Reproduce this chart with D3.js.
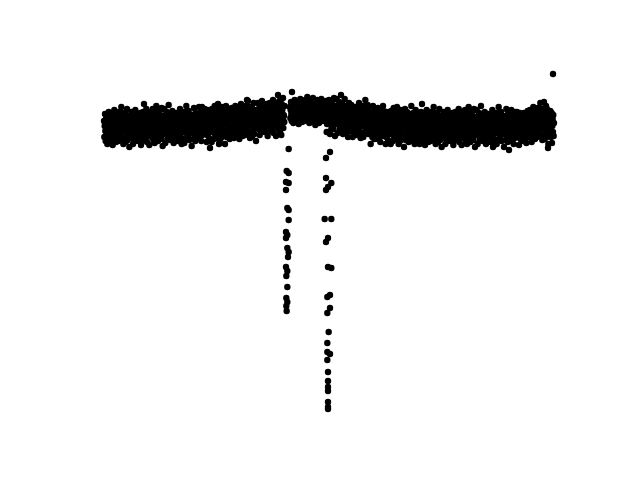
<!DOCTYPE html>
<html>
<head>
<meta charset="utf-8">
<script src="https://cdn.jsdelivr.net/npm/d3@7"></script>
<style>
html,body{margin:0;padding:0;background:#fff;}
svg{display:block;}
</style>
</head>
<body>
<svg id="chart" width="640" height="480"></svg>
<script>
// Light-curve style data: cadence number (x) and flux offset (y)
const seg1Start = 0;
const seg1Flux = [
9,-7,4,16,-1,-11,11,3,-4,14,-14,6,10,2,18,-5,7,-8,13,0,
-3,17,-10,6,11,2,-15,10,14,-5,3,20,-1,-7,9,16,-12,4,-4,13,
7,0,14,-11,10,18,-3,-8,3,11,-5,6,23,-10,2,13,-1,17,-14,9,
-8,10,3,-1,16,-12,11,6,-5,21,0,-10,9,14,-4,4,-17,13,7,2,
11,-4,18,2,-8,7,16,-14,3,10,-3,14,-7,6,20,-11,9,0,13,-5,
2,14,-5,9,-11,3,13,-1,17,-8,10,-15,7,16,-3,4,-7,18,0,11,
6,-10,11,-3,17,2,-7,21,7,-12,10,-1,14,3,-5,18,-15,9,13,0,
-4,5,17,-7,10,1,21,-3,-10,14,4,8,-13,18,-2,12,3,24,-6,7,
17,0,-11,11,5,-6,15,19,-2,3,12,-9,7,22,-3,8,-16,14,4,-4,
0,21,10,-4,-13,15,4,1,18,11,-9,5,14,-3,25,-7,8,3,17,-10,
1,14,-7,8,-4,19,3,11,7,-13,15,-3,4,12,-10,0,17,5,-6,10,
14,-3,5,-11,17,10,-6,0,21,4,-4,15,11,-14,3,12,7,-9,18,-2,
10,-13,18,0,14,3,-9,24,7,-4,12,4,-7,-2,19,11,-10,15,1,8,
3,8,14,-16,5,-3,15,10,-9,1,22,-4,7,12,-11,17,0,4,11,-7,
-2,16,3,12,-8,23,9,-4,17,0,13,6,-11,19,10,-5,5,21,-1,14,
14,3,21,-4,7,0,19,10,-12,13,-5,20,2,16,6,-8,12,-2,17,5,
3,16,12,-12,21,-2,6,17,2,13,-9,10,24,-4,5,20,0,14,-7,9,
9,-4,26,5,14,0,20,-11,10,6,16,-8,-1,23,3,12,-5,19,7,-2,
-2,6,16,-14,10,-1,24,9,-7,14,5,0,21,17,-4,7,13,-9,2,19,
15,-1,10,22,5,-5,17,9,2,20,-8,12,16,8,24,1,13,-2,19,6,
3,23,-4,12,17,8,-9,16,20,1,9,26,5,-1,15,22,-6,10,2,19,
13,6,20,-5,16,24,3,-2,9,17,1,12,29,-4,8,19,5,23,-8,15,
-2,16,9,5,22,-6,17,12,1,27,6,-4,15,20,2,10,-11,19,13,8,
20,5,27,11,1,16,25,-5,12,19,6,23,2,15,29,-2,18,9,22,4,
11,23,4,18,-2,12,22,8,26,1,19,-6,16,25,6,13,2,27,9,20,
15,-1,20,6,26,11,2,30,16,-3,19,8,23,12,4,27,-6,18,22,9,
4,13,25,1,18,9,29,5,-2,22,12,16,-5,26,6,20,11,32,2,15,
14,8,24
];

const seg2Start = 558;
const seg2Flux = [
23,12,20,28,16,9,25,19,14,27,7,21,24,18,30,13,22,11,26,17,
15,29,10,21,25,18,6,24,27,13,19,31,16,12,23,28,8,20,14,26,
22,17,27,9,24,30,15,11,19,25,13,21,33,10,18,26,16,29,7,23,
11,24,19,16,28,8,25,21,13,32,17,10,23,27,14,20,5,26,22,18,
25,14,30,18,11,22,28,7,19,24,15,27,12,21,31,9,23,17,26,13,
18,27,13,23,9,19,26,16,29,11,24,6,22,28,15,20,12,30,17
];

const seg3Start = 677;
const seg3Flux = [
27,10,-1,21,15,4,25,29,8,13,22,1,17,32,7,18,-6,24,14,6,
10,31,20,6,-3,25,14,11,28,21,1,15,24,7,35,3,18,13,27,0,
-4,23,9,14,-1,31,3,20,11,-3,17,24,7,10,21,-7,2,16,27,6,
7,20,-1,14,2,25,9,17,13,-7,21,3,10,18,-4,6,23,11,0,16,
20,3,11,-5,23,16,0,6,27,10,2,21,17,-8,9,18,13,-3,24,4,
16,-7,24,6,20,9,-3,30,13,2,18,10,-1,4,25,17,-4,21,7,14,
5,10,16,-14,7,-1,17,12,-7,3,24,-2,9,14,-9,19,2,6,13,-5,
-3,15,2,11,-9,22,8,-5,16,-1,12,5,-12,18,9,-6,4,20,-2,13,
12,1,19,-6,5,-2,17,8,-14,11,-7,18,0,14,4,-10,10,-4,15,3,
1,14,10,-14,19,-4,4,15,0,11,-11,8,22,-6,3,18,-2,12,-9,7,
6,-7,23,2,11,-3,17,-14,7,3,13,-11,-4,20,0,9,-8,16,4,-5,
-5,3,13,-17,7,-4,21,6,-10,11,2,-3,18,14,-7,4,10,-12,-1,16,
-11,16,2,7,-8,24,-4,13,4,-10,10,17,0,3,14,-14,-5,9,20,-1,
9,-7,4,16,-1,-11,11,3,-4,14,-14,6,10,2,18,-5,7,-8,13,0,
-3,17,-10,6,11,2,-15,10,14,-5,3,20,-1,-7,9,16,-12,4,-4,13,
7,0,14,-11,10,18,-3,-8,3,11,-5,6,23,-10,2,13,-1,17,-14,9,
-8,10,3,-1,16,-12,11,6,-5,21,0,-10,9,14,-4,4,-17,13,7,2,
11,-4,18,2,-8,7,16,-14,3,10,-3,14,-7,6,20,-11,9,0,13,-5,
2,14,-5,9,-11,3,13,-1,17,-8,10,-15,7,16,-3,4,-7,18,0,11,
6,-10,11,-3,17,2,-7,21,7,-12,10,-1,14,3,-5,18,-15,9,13,0,
-5,4,16,-8,9,0,20,-4,-11,13,3,7,-14,17,-3,11,2,23,-7,6,
16,-1,-12,10,4,-7,14,18,-3,2,11,-10,6,21,-4,7,-17,13,3,-5,
-1,20,9,-5,-14,14,3,0,17,10,-10,4,13,-4,24,-8,7,2,16,-11,
0,13,-8,7,-5,18,2,10,6,-14,14,-4,3,11,-11,-1,16,4,-7,9,
13,-4,4,-12,16,9,-7,-1,20,3,-5,14,10,-15,2,11,6,-10,17,-3,
9,-14,17,-1,13,2,-10,23,6,-5,11,3,-8,-3,18,10,-11,14,0,7,
2,7,13,-17,4,-4,14,9,-10,0,21,-5,6,11,-12,16,-1,3,10,-8,
-5,13,0,9,-11,20,6,-7,14,-3,10,3,-14,16,7,-8,2,18,-4,11,
11,0,18,-7,4,-3,16,7,-15,10,-8,17,-1,13,3,-11,9,-5,14,2,
10,-6,5,17,0,-10,12,4,-3,15,-13,7,11,3,19,-4,8,-7,14,1,
0,20,-7,9,14,5,-12,13,17,-2,6,23,2,-4,12,19,-9,7,-1,16,
11,4,18,-7,14,22,1,-4,7,15,-1,10,27,-6,6,17,3,21,-10,13,
-5,13,6,2,19,-9,14,9,-2,24,3,-7,12,17,-1,7,-14,16,10,5,
12,-3,19,3,-7,8,17,-13,4,11,-2,15,-6,7
];

// Two drop-out columns: [cadence, flux]
const columnA = [
[554,-19],[548,-41],[554,-43],[546,-52],[554,-53],[546,-60],[550,-78],[554,-80],
[554,-90],[546,-102],[550,-105],[546,-108],[550,-118],[554,-122],[552,-127],
[546,-137],[550,-141],[547,-146],[550,-157],[547,-168],[550,-172],[547,-176],[548,-181]
];
const columnB = [
[668,-2],[678,-4],[678,-22],[666,-28],[666,-48],[682,-53],[672,-57],[666,-60],
[662,-89],[682,-89],[672,-108],[666,-112],[672,-137],[682,-138],[678,-165],[670,-167],
[678,-178],[670,-183],[674,-202],[670,-213],[670,-222],[678,-224],[670,-230],[672,-242],
[672,-251],[672,-257],[672,-261],[672,-272],[672,-277],[672,-279]
];
// Isolated points
const outliers = [
[1347,56],[564,38],[120,26],[294,23],[429,30],[522,35],[837,24],[954,26],
[318,-18],[345,-14],[1167,-17],[1215,-20],[1332,-18],[1320,28],[1329,21],[714,-2]
];

const xDomain = [0, 1350];
const yDomain = [-300, 60];

const svg = d3.select("#chart");
const x = d3.scaleLinear().domain(xDomain).range([104, 554]);
const y = d3.scaleLinear().domain(yDomain).range([430, 70]);

const points = [];
[[seg1Start, seg1Flux], [seg2Start, seg2Flux], [seg3Start, seg3Flux]].forEach(([s, arr]) => {
  arr.forEach((f, i) => points.push([s + i, f]));
});
columnA.forEach(p => points.push(p));
columnB.forEach(p => points.push(p));
outliers.forEach(p => points.push(p));

svg.append("g")
  .selectAll("circle")
  .data(points)
  .join("circle")
  .attr("cx", d => x(d[0]))
  .attr("cy", d => y(d[1]))
  .attr("r", 3.2)
  .attr("fill", "#000");
</script>
</body>
</html>
